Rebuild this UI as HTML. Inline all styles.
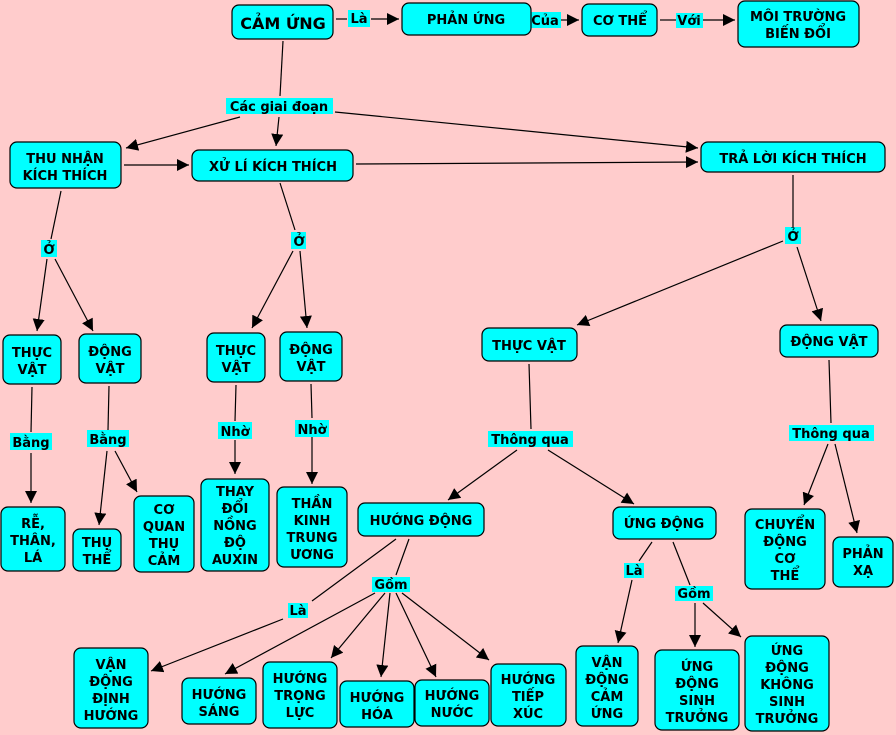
<!DOCTYPE html>
<html><head><meta charset="utf-8"><style>
html,body{margin:0;padding:0;background:#FFCCCC;}
svg{display:block;}
text{font-family:"DejaVu Sans","Liberation Sans",sans-serif;font-weight:bold;fill:#000;text-anchor:middle;}
.n{fill:#00FFFF;stroke:#000;stroke-width:1.2;}
.l{fill:#00FFFF;}
line{stroke:#000;stroke-width:1.2;}
</style></head><body>
<svg width="896" height="735" viewBox="0 0 896 735" xmlns="http://www.w3.org/2000/svg">
<defs><marker id="a" viewBox="0 0 10 10" refX="10" refY="5" markerWidth="12" markerHeight="12" markerUnits="userSpaceOnUse" orient="auto"><path d="M0,0L10,5L0,10z" fill="#000"/></marker></defs>
<rect width="896" height="735" fill="#FFCCCC"/>
<g font-size="13">
<!-- connectors -->
<line x1="336" y1="19" x2="347" y2="19"/><line x1="371" y1="19" x2="399" y2="19" marker-end="url(#a)"/>
<line x1="533" y1="20" x2="528" y2="20"/><line x1="555" y1="20" x2="563" y2="20"/><line x1="504" y1="20" x2="529" y2="20"/><line x1="563" y1="20" x2="579" y2="20" marker-end="url(#a)"/>
<line x1="660" y1="20" x2="676" y2="20"/><line x1="703" y1="20" x2="735" y2="20" marker-end="url(#a)"/>
<line x1="283" y1="41" x2="280" y2="96"/>
<line x1="240" y1="117" x2="126" y2="148" marker-end="url(#a)"/>
<line x1="279" y1="117" x2="276" y2="146" marker-end="url(#a)"/>
<line x1="335" y1="112" x2="698" y2="148" marker-end="url(#a)"/>
<line x1="124" y1="165" x2="189" y2="165" marker-end="url(#a)"/>
<line x1="356" y1="164" x2="698" y2="162" marker-end="url(#a)"/>
<line x1="61" y1="191" x2="51" y2="239"/>
<line x1="47" y1="259" x2="37" y2="331" marker-end="url(#a)"/>
<line x1="55" y1="259" x2="93" y2="331" marker-end="url(#a)"/>
<line x1="280" y1="183" x2="295" y2="230"/>
<line x1="293" y1="251" x2="252" y2="328" marker-end="url(#a)"/>
<line x1="300" y1="251" x2="307" y2="328" marker-end="url(#a)"/>
<line x1="793" y1="175" x2="793" y2="227"/>
<line x1="783" y1="241" x2="577" y2="325" marker-end="url(#a)"/>
<line x1="797" y1="247" x2="821" y2="321" marker-end="url(#a)"/>
<line x1="32" y1="387" x2="31" y2="432"/><line x1="31" y1="453" x2="31" y2="503" marker-end="url(#a)"/>
<line x1="109" y1="386" x2="108" y2="430"/><line x1="107" y1="451" x2="99" y2="525" marker-end="url(#a)"/><line x1="115" y1="451" x2="137" y2="492" marker-end="url(#a)"/>
<line x1="236" y1="385" x2="235" y2="421"/><line x1="235" y1="440" x2="235" y2="474" marker-end="url(#a)"/>
<line x1="311" y1="384" x2="312" y2="418"/><line x1="312" y1="437" x2="312" y2="484" marker-end="url(#a)"/>
<line x1="529" y1="364" x2="531" y2="429"/>
<line x1="517" y1="450" x2="448" y2="500" marker-end="url(#a)"/>
<line x1="548" y1="450" x2="634" y2="504" marker-end="url(#a)"/>
<line x1="829" y1="360" x2="831" y2="423"/>
<line x1="828" y1="444" x2="804" y2="505" marker-end="url(#a)"/>
<line x1="835" y1="444" x2="857" y2="533" marker-end="url(#a)"/>
<line x1="396" y1="539" x2="312" y2="601"/>
<line x1="409" y1="539" x2="396" y2="575"/>
<line x1="283" y1="619" x2="151" y2="671" marker-end="url(#a)"/>
<line x1="375" y1="593" x2="225" y2="674" marker-end="url(#a)"/>
<line x1="385" y1="593" x2="331" y2="658" marker-end="url(#a)"/>
<line x1="390" y1="593" x2="381" y2="677" marker-end="url(#a)"/>
<line x1="396" y1="593" x2="436" y2="677" marker-end="url(#a)"/>
<line x1="402" y1="593" x2="489" y2="660" marker-end="url(#a)"/>
<line x1="652" y1="542" x2="639" y2="561"/>
<line x1="632" y1="580" x2="618" y2="643" marker-end="url(#a)"/>
<line x1="673" y1="542" x2="690" y2="585"/>
<line x1="695" y1="603" x2="695" y2="647" marker-end="url(#a)"/>
<line x1="703" y1="603" x2="741" y2="637" marker-end="url(#a)"/>

<!-- link labels -->
<rect class="l" x="348" y="10" width="22" height="17"/><text x="359" y="23">Là</text>
<rect class="l" x="529" y="12" width="32" height="16"/><text x="545" y="25">Của</text>
<rect class="l" x="676" y="13" width="27" height="15"/><text x="689" y="25">Với</text>
<rect class="l" x="226" y="98" width="107" height="16"/><text x="279" y="111">Các giai đoạn</text>
<rect class="l" x="41" y="240" width="16" height="17"/><text x="49" y="254">Ở</text>
<rect class="l" x="291" y="232" width="15" height="17"/><text x="299" y="246">Ở</text>
<rect class="l" x="785" y="227" width="16" height="17"/><text x="793" y="241">Ở</text>
<rect class="l" x="10" y="433" width="42" height="17"/><text x="31" y="447">Bằng</text>
<rect class="l" x="87" y="430" width="42" height="17"/><text x="108" y="444">Bằng</text>
<rect class="l" x="218" y="422" width="34" height="17"/><text x="235" y="436">Nhờ</text>
<rect class="l" x="295" y="420" width="34" height="17"/><text x="312" y="434">Nhờ</text>
<rect class="l" x="488" y="431" width="85" height="16"/><text x="530" y="444">Thông qua</text>
<rect class="l" x="789" y="425" width="85" height="16"/><text x="831" y="438">Thông qua</text>
<rect class="l" x="372" y="577" width="38" height="15"/><text x="391" y="589">Gồm</text>
<rect class="l" x="288" y="603" width="20" height="15"/><text x="298" y="615">Là</text>
<rect class="l" x="624" y="563" width="20" height="15"/><text x="634" y="575">Là</text>
<rect class="l" x="675" y="586" width="38" height="15"/><text x="694" y="598">Gồm</text>

<!-- nodes -->
<rect class="n" x="232" y="5" width="101" height="34" rx="7"/><text x="283" y="29" font-size="16">CẢM ỨNG</text>
<rect class="n" x="402" y="3" width="129" height="32" rx="7"/><text x="466" y="24">PHẢN ỨNG</text>
<rect class="n" x="582" y="4" width="75" height="32" rx="7"/><text x="620" y="25">CƠ THỂ</text>
<rect class="n" x="738" y="1" width="121" height="46" rx="7"/><text x="798" y="21">MÔI TRƯỜNG</text><text x="798" y="38">BIẾN ĐỔI</text>
<rect class="n" x="10" y="142" width="111" height="46" rx="7"/><text x="65" y="163">THU NHẬN</text><text x="65" y="180">KÍCH THÍCH</text>
<rect class="n" x="192" y="150" width="161" height="31" rx="7"/><text x="273" y="171">XỬ LÍ KÍCH THÍCH</text>
<rect class="n" x="701" y="142" width="184" height="30" rx="7"/><text x="793" y="163">TRẢ LỜI KÍCH THÍCH</text>
<rect class="n" x="3" y="335" width="58" height="49" rx="7"/><text x="32" y="357">THỰC</text><text x="32" y="374">VẬT</text>
<rect class="n" x="79" y="334" width="62" height="49" rx="7"/><text x="110" y="356">ĐỘNG</text><text x="110" y="373">VẬT</text>
<rect class="n" x="207" y="333" width="58" height="49" rx="7"/><text x="236" y="355">THỰC</text><text x="236" y="372">VẬT</text>
<rect class="n" x="280" y="332" width="62" height="49" rx="7"/><text x="311" y="354">ĐỘNG</text><text x="311" y="371">VẬT</text>
<rect class="n" x="482" y="328" width="95" height="33" rx="7"/><text x="529" y="350">THỰC VẬT</text>
<rect class="n" x="780" y="325" width="98" height="32" rx="7"/><text x="829" y="346">ĐỘNG VẬT</text>
<rect class="n" x="1" y="507" width="64" height="64" rx="7"/><text x="33" y="528">RỄ,</text><text x="33" y="545">THÂN,</text><text x="33" y="562">LÁ</text>
<rect class="n" x="73" y="529" width="48" height="42" rx="7"/><text x="97" y="547">THỤ</text><text x="97" y="564">THỂ</text>
<rect class="n" x="134" y="496" width="60" height="76" rx="7"/><text x="164" y="514">CƠ</text><text x="164" y="531">QUAN</text><text x="164" y="548">THỤ</text><text x="164" y="565">CẢM</text>
<rect class="n" x="201" y="479" width="68" height="92" rx="7"/><text x="235" y="496">THAY</text><text x="235" y="513">ĐỔI</text><text x="235" y="530">NỒNG</text><text x="235" y="547">ĐỘ</text><text x="235" y="564">AUXIN</text>
<rect class="n" x="277" y="487" width="70" height="80" rx="7"/><text x="312" y="508">THẦN</text><text x="312" y="525">KINH</text><text x="312" y="542">TRUNG</text><text x="312" y="559">ƯƠNG</text>
<rect class="n" x="358" y="503" width="126" height="33" rx="7"/><text x="421" y="525">HƯỚNG ĐỘNG</text>
<rect class="n" x="613" y="507" width="103" height="32" rx="7"/><text x="664" y="528">ỨNG ĐỘNG</text>
<rect class="n" x="745" y="509" width="80" height="80" rx="7"/><text x="785" y="529">CHUYỂN</text><text x="785" y="546">ĐỘNG</text><text x="785" y="563">CƠ</text><text x="785" y="580">THỂ</text>
<rect class="n" x="833" y="537" width="60" height="50" rx="7"/><text x="863" y="558">PHẢN</text><text x="863" y="575">XẠ</text>
<rect class="n" x="74" y="648" width="74" height="80" rx="7"/><text x="111" y="669">VẬN</text><text x="111" y="686">ĐỘNG</text><text x="111" y="703">ĐỊNH</text><text x="111" y="720">HƯỚNG</text>
<rect class="n" x="182" y="678" width="74" height="46" rx="7"/><text x="219" y="699">HƯỚNG</text><text x="219" y="716">SÁNG</text>
<rect class="n" x="263" y="662" width="74" height="66" rx="7"/><text x="300" y="683">HƯỚNG</text><text x="300" y="700">TRỌNG</text><text x="300" y="717">LỰC</text>
<rect class="n" x="340" y="681" width="74" height="46" rx="7"/><text x="377" y="702">HƯỚNG</text><text x="377" y="719">HÓA</text>
<rect class="n" x="415" y="680" width="74" height="46" rx="7"/><text x="452" y="700">HƯỚNG</text><text x="452" y="717">NƯỚC</text>
<rect class="n" x="491" y="664" width="75" height="62" rx="7"/><text x="528" y="684">HƯỚNG</text><text x="528" y="701">TIẾP</text><text x="528" y="718">XÚC</text>
<rect class="n" x="576" y="646" width="62" height="80" rx="7"/><text x="607" y="667">VẬN</text><text x="607" y="684">ĐỘNG</text><text x="607" y="701">CẢM</text><text x="607" y="718">ỨNG</text>
<rect class="n" x="655" y="650" width="84" height="80" rx="7"/><text x="697" y="671">ỨNG</text><text x="697" y="688">ĐỘNG</text><text x="697" y="705">SINH</text><text x="697" y="722">TRƯỞNG</text>
<rect class="n" x="745" y="636" width="84" height="95" rx="7"/><text x="787" y="655">ỨNG</text><text x="787" y="672">ĐỘNG</text><text x="787" y="689">KHÔNG</text><text x="787" y="706">SINH</text><text x="787" y="723">TRƯỞNG</text>
</g>
</svg>
</body></html>
